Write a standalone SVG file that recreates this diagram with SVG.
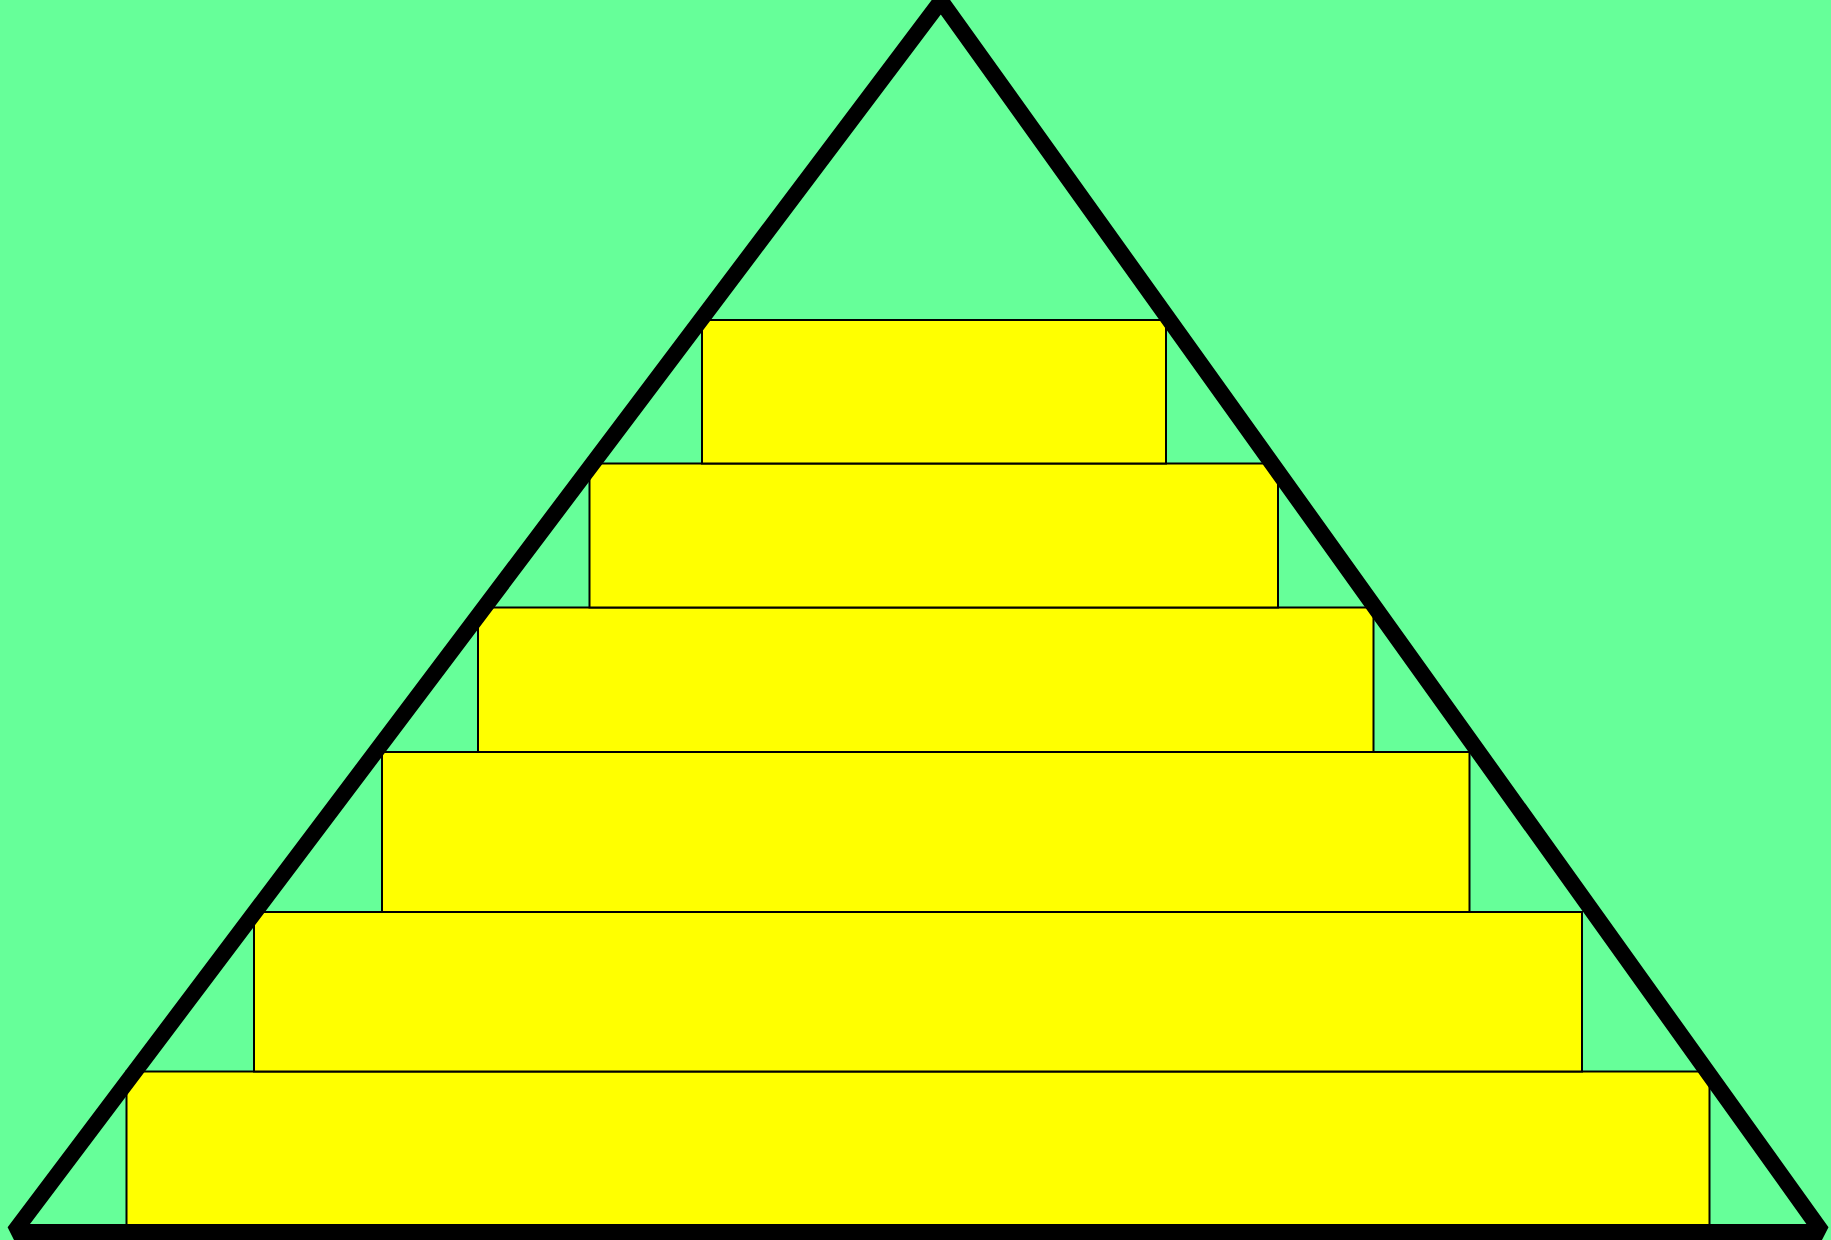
<svg xmlns="http://www.w3.org/2000/svg" width="1831" height="1240" viewBox="0 0 1831 1240">
<style>
.bg{fill:#66FF99}
.tier{fill:#FFFF00;stroke:#000;stroke-width:2}
.tri{fill:none;stroke:#000;stroke-width:16;stroke-linejoin:bevel}
</style>
<rect class="bg" x="0" y="0" width="1831" height="1240"/>
<g id="tiers">
<rect id="tier6" class="tier" x="126.5" y="1071.5" width="1583" height="160"/>
<rect id="tier5" class="tier" x="254" y="912" width="1328" height="159.5"/>
<rect id="tier4" class="tier" x="382" y="752" width="1087.5" height="160"/>
<rect id="tier3" class="tier" x="478" y="607.5" width="895.5" height="144.5"/>
<rect id="tier2" class="tier" x="589.5" y="463.5" width="688.5" height="144"/>
<rect id="tier1" class="tier" x="702" y="320" width="464" height="143.5"/>
</g>
<g id="triangle">
<polygon class="tri" points="941,1 1822,1232 14,1232"/>
</g>
</svg>
